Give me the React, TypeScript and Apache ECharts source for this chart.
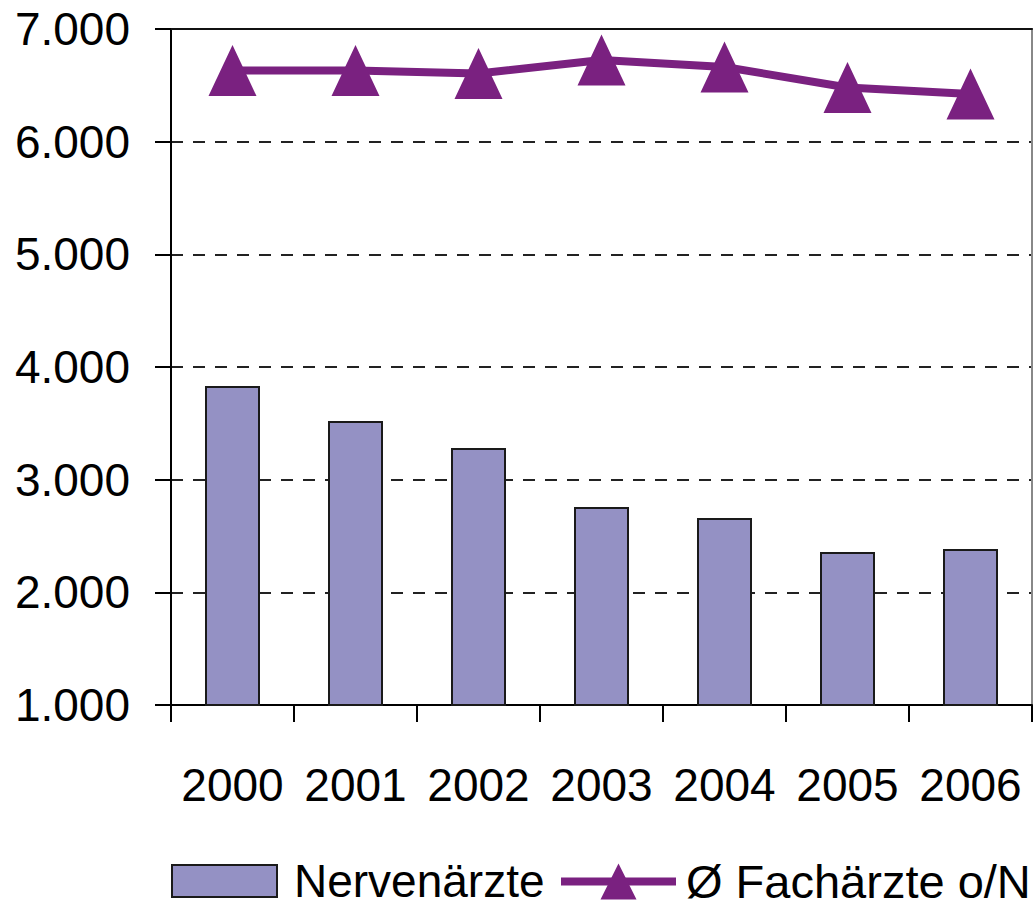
import React, { useEffect, useRef } from "react";
import * as echarts from "echarts";

const years = ["2000", "2001", "2002", "2003", "2004", "2005", "2006"];
const nervenaerzte = [3831, 3521, 3281, 2757, 2660, 2358, 2385];
const fachaerzte = [6631, 6631, 6605, 6725, 6663, 6481, 6423];
const yTicks = { min: 1000, max: 7000, interval: 1000 };

const FONT = "'Liberation Sans', Arial, sans-serif";

export default function App() {
  const ref = useRef<HTMLDivElement>(null);
  useEffect(() => {
    if (!ref.current) return;
    const chart = echarts.init(ref.current, null, { renderer: "svg" });
    chart.setOption({
      animation: false,
      backgroundColor: "#ffffff",
      textStyle: { fontFamily: FONT },
      grid: { left: 171, top: 29, right: 2, bottom: 205 },
      legend: [
        {
          data: ["Nervenärzte"],
          left: 171,
          top: 858,
          padding: 0,
          icon: "rect",
          itemWidth: 105,
          itemHeight: 32,
          textStyle: { fontSize: 46, color: "#000", fontFamily: FONT, padding: [0, 0, 0, 12] },
        },
        {
          data: ["Ø Fachärzte o/N"],
          left: 557,
          top: 858,
          padding: 0,
          itemWidth: 115,
          itemHeight: 45,
          lineStyle: { width: 8 },
          textStyle: { fontSize: 47, color: "#000", fontFamily: FONT, padding: [0, 0, 0, 5] },
        },
      ],
      xAxis: [
        {
          type: "category",
          data: years,
          boundaryGap: true,
          axisLine: { show: true, lineStyle: { color: "#000", width: 2 } },
          axisTick: { show: true, interval: 0, length: 17, lineStyle: { color: "#000", width: 2 } },
          axisLabel: { interval: 0, fontSize: 46, color: "#000", fontFamily: FONT, margin: 57 },
          splitLine: { show: false },
        },
        {
          type: "category",
          data: years,
          position: "top",
          axisLine: { show: true, onZero: false, lineStyle: { color: "#111", width: 2 } },
          axisTick: { show: false },
          axisLabel: { show: false },
          splitLine: { show: false },
        },
      ],
      yAxis: [
        {
          type: "value",
          min: yTicks.min,
          max: yTicks.max,
          interval: yTicks.interval,
          axisLine: { show: true, lineStyle: { color: "#000", width: 2 } },
          axisTick: { show: true, length: 16, lineStyle: { color: "#000", width: 2 } },
          axisLabel: {
            fontSize: 46,
            color: "#000",
            fontFamily: FONT,
            margin: 41,
            formatter: (v: number) => {
              const s = String(Math.round(v));
              return s.replace(/\B(?=(\d{3})+(?!\d))/g, ".");
            },
          },
          splitLine: {
            show: true,
            lineStyle: { color: "#222", width: 2, type: [12, 10] },
          },
        },
        {
          type: "value",
          min: yTicks.min,
          max: yTicks.max,
          interval: yTicks.interval,
          position: "right",
          axisLine: { show: true, lineStyle: { color: "#888", width: 2 } },
          axisTick: { show: false },
          axisLabel: { show: false },
          splitLine: { show: false },
        },
      ],
      series: [
        {
          name: "Nervenärzte",
          type: "bar",
          data: nervenaerzte,
          barWidth: 55,
          itemStyle: { color: "#9491c4", borderColor: "#1a1a1a", borderWidth: 2 },
        },
        {
          name: "Ø Fachärzte o/N",
          type: "line",
          data: fachaerzte,
          symbol: "triangle",
          symbolSize: [48, 51],
          lineStyle: { color: "#7a2180", width: 8 },
          itemStyle: { color: "#7a2180" },
          z: 5,
        },
      ],
    });
    return () => chart.dispose();
  }, []);
  return (
    <div
      ref={ref}
      style={{ position: "fixed", left: 0, top: 0, width: 1034, height: 910 }}
    />
  );
}
